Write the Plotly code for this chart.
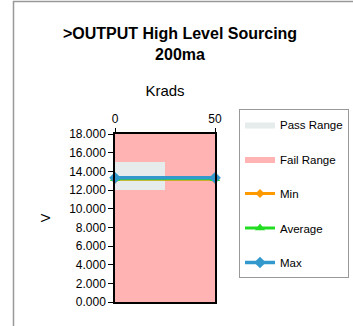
import plotly.graph_objects as go

# Data
krads = [0, 50]
min_v = [13.15, 13.15]
avg_v = [13.2, 13.2]
max_v = [13.3, 13.3]
pass_x = [0, 25, 25, 0, 0]
pass_y = [12, 12, 15, 15, 12]
fail_x = [0, 50, 50, 0, 0]
fail_y = [0, 0, 18, 18, 0]
y_ticks = [0, 2, 4, 6, 8, 10, 12, 14, 16, 18]

FONT = "Liberation Sans, Arial, sans-serif"

fig = go.Figure()
fig.add_trace(go.Scatter(x=fail_x, y=fail_y, fill="toself", fillcolor="#FFB3B3",
                         line=dict(width=0, color="#FFB3B3"), mode="lines",
                         name="Fail Range", legendrank=2, legendgroup="b", hoverinfo="skip"))
fig.add_trace(go.Scatter(x=pass_x, y=pass_y, fill="toself", fillcolor="#E6ECEC",
                         line=dict(width=0, color="#E6ECEC"), mode="lines",
                         name="Pass Range", legendrank=1, legendgroup="a", hoverinfo="skip"))
fig.add_trace(go.Scatter(x=krads, y=min_v, mode="lines+markers", name="Min",
                         line=dict(color="#FF9900", width=3),
                         marker=dict(symbol="diamond", size=7, color="#FF9900"),
                         legendrank=3, legendgroup="c", cliponaxis=False))
fig.add_trace(go.Scatter(x=krads, y=avg_v, mode="lines+markers", name="Average",
                         line=dict(color="#22DD22", width=3),
                         marker=dict(symbol="triangle-up", size=9, color="#22DD22"),
                         legendrank=4, legendgroup="d", cliponaxis=False))
fig.add_trace(go.Scatter(x=krads, y=max_v, mode="lines+markers", name="Max",
                         line=dict(color="#3399CC", width=3.5),
                         marker=dict(symbol="diamond", size=9, color="#3399CC"),
                         legendrank=5, legendgroup="e", cliponaxis=False))

fig.update_layout(
    width=353, height=326,
    margin=dict(l=115, r=138, t=134, b=24),
    paper_bgcolor="white", plot_bgcolor="white",
    font=dict(family=FONT, size=12, color="#000000"),
    title=dict(text="<b>>OUTPUT High Level Sourcing<br>200ma</b>",
               x=180 / 353, xref="container", xanchor="center",
               y=1 - 39 / 326, yref="container", yanchor="top",
               font=dict(family=FONT, size=16, color="#000000")),
    showlegend=True,
    legend=dict(x=239 / 353, xref="container", xanchor="left",
                y=1 - 109 / 326, yref="container", yanchor="top",
                bordercolor="#999999", borderwidth=1, bgcolor="white",
                font=dict(family=FONT, size=11.5), traceorder="grouped",
                tracegroupgap=15.5, itemwidth=30),
    shapes=[dict(type="line", xref="paper", yref="paper",
                 x0=(13 - 115) / 100, x1=3.0, y0=(302 - 1.5) / 168, y1=(302 - 1.5) / 168,
                 line=dict(color="#999999", width=1.5)),
            dict(type="line", xref="paper", yref="paper",
                 x0=(13.5 - 115) / 100, x1=(13.5 - 115) / 100, y0=(302 - 1) / 168, y1=-1,
                 line=dict(color="#999999", width=1.5))],
)
legend_ok = True
try:
    fig.update_layout(legend_maxheight=260)
except Exception:
    legend_ok = False
if not legend_ok:
    fig.update_layout(legend_tracegroupgap=14)

fig.update_xaxes(range=[0, 50], side="top", tickvals=krads, ticktext=["0", "50"],
                 showgrid=False, zeroline=False, showline=True, linecolor="black",
                 linewidth=1.5, mirror=True, ticks="outside", ticklen=4, tickcolor="black",
                 tickfont=dict(size=12),
                 title=dict(text="Krads", standoff=12, font=dict(size=15)))
fig.update_yaxes(range=[0, 18], tickvals=y_ticks, tickformat=".3f",
                 showgrid=False, zeroline=False, showline=True, linecolor="black",
                 linewidth=1.5, mirror=True, ticks="outside", ticklen=5, tickcolor="black",
                 tickfont=dict(size=12),
                 title=dict(text="V", standoff=16, font=dict(size=13)))

fig.write_html("out.html", config={"displayModeBar": False},
               post_script="document.body.style.margin='0';")
